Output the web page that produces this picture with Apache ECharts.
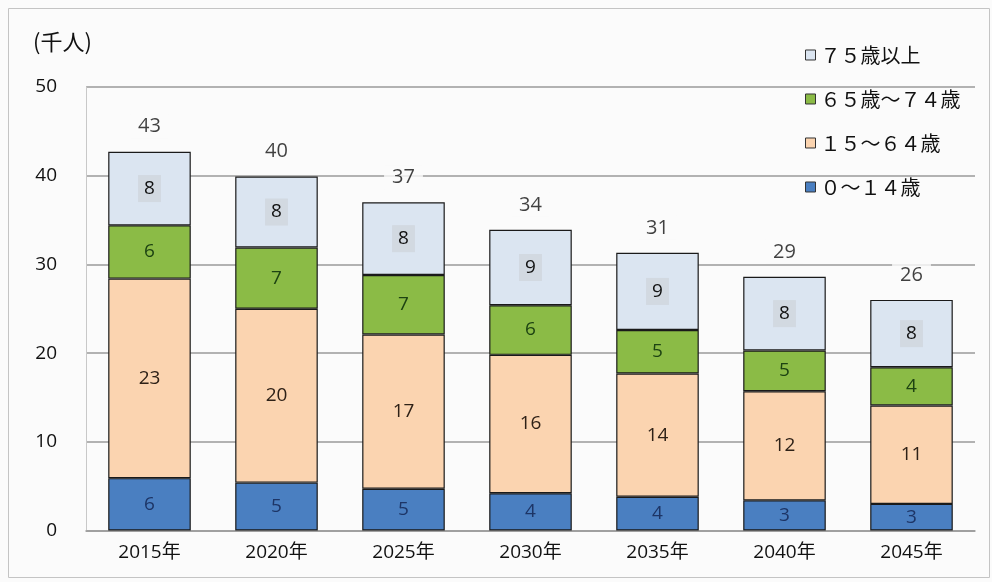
<!DOCTYPE html>
<html>
<head>
<meta charset="utf-8">
<script src="https://cdn.jsdelivr.net/npm/echarts@6/dist/echarts.min.js"></script>
<style>
  html, body { margin: 0; padding: 0; background: #fbfbfb; }
  #chart { width: 992px; height: 582px; }
</style>
</head>
<body>
<div id="chart"></div>
<script>
// Population by age group (thousands of people), projected every five years
const years = ['2015年', '2020年', '2025年', '2030年', '2035年', '2040年', '2045年'];
const age0to14 = [5.9, 5.4, 4.7, 4.2, 3.8, 3.4, 3.0];
const age15to64 = [22.5, 19.6, 17.4, 15.6, 13.9, 12.3, 11.1];
const age65to74 = [6.0, 6.9, 6.7, 5.6, 4.9, 4.6, 4.3];
const age75plus = [8.3, 8.0, 8.2, 8.5, 8.7, 8.3, 7.6];
const yTicks = [0, 10, 20, 30, 40, 50];

const seriesNames = ['０〜１４歳', '１５〜６４歳', '６５歳〜７４歳', '７５歳以上'];
const totals = years.map((_, i) => age0to14[i] + age15to64[i] + age65to74[i] + age75plus[i]);

const cjk = '"Noto Sans CJK JP", sans-serif';
const latin = '"Open Sans", "Noto Sans CJK JP", sans-serif';
const round = p => String(Math.round(p.value));

function segment(name, data, fill, textColor, labelBg) {
  return {
    name: name,
    type: 'bar',
    stack: 'pop',
    data: data,
    barWidth: '65%',
    itemStyle: { color: fill, borderColor: '#1a1a1a', borderWidth: 1.2 },
    label: {
      show: true,
      position: 'inside',
      formatter: round,
      color: textColor,
      fontSize: 19,
      fontFamily: latin,
      backgroundColor: labelBg,
      padding: [4, 6]
    },
    emphasis: { disabled: true }
  };
}

const chart = echarts.init(document.getElementById('chart'), null, { renderer: 'canvas' });
chart.setOption({
  animation: false,
  backgroundColor: '#fbfbfb',
  grid: { left: 86, right: 17, top: 87, bottom: 51.5 },
  graphic: [
    {
      type: 'rect',
      shape: { x: 8.5, y: 8.5, width: 981, height: 569 },
      style: { fill: 'none', stroke: '#c4c4c4', lineWidth: 1 },
      silent: true
    },
    {
      type: 'text',
      left: 33,
      top: 31,
      style: { text: '(千人)', fontSize: 22, fill: '#111', fontFamily: cjk }
    }
  ],
  legend: {
    data: [seriesNames[3], seriesNames[2], seriesNames[1], seriesNames[0]],
    orient: 'vertical',
    left: 800,
    top: 40,
    itemGap: 24,
    itemWidth: 10,
    itemHeight: 10,
    icon: 'rect',
    itemStyle: { borderColor: '#333', borderWidth: 1 },
    textStyle: { fontSize: 20, color: '#111', fontFamily: cjk },
    selectedMode: false
  },
  xAxis: {
    type: 'category',
    data: years,
    axisTick: { show: false },
    axisLine: { lineStyle: { color: '#9a9a9a', width: 1.5 } },
    axisLabel: { fontSize: 19, color: '#111', margin: 13, fontFamily: latin }
  },
  yAxis: {
    type: 'value',
    min: yTicks[0],
    max: yTicks[yTicks.length - 1],
    interval: yTicks[1] - yTicks[0],
    axisLine: { show: true, lineStyle: { color: '#c8c8c8', width: 1 } },
    axisTick: { show: false },
    axisLabel: { fontSize: 19, color: '#111', margin: 29, fontFamily: latin },
    splitLine: { lineStyle: { color: '#9a9a9a', width: 1.5 } }
  },
  series: [
    segment(seriesNames[0], age0to14, '#4a7fc1', '#1d3566', null),
    segment(seriesNames[1], age15to64, '#fbd4b0', '#2e2117', null),
    segment(seriesNames[2], age65to74, '#8bbb46', '#1d4312', null),
    segment(seriesNames[3], age75plus, '#dbe5f1', '#111', 'rgba(190,190,190,0.3)'),
    {
      name: '合計',
      type: 'scatter',
      data: totals,
      symbolSize: 0,
      silent: true,
      label: {
        show: true,
        position: 'top',
        distance: 13,
        formatter: round,
        color: '#111',
        fontSize: 20,
        fontFamily: latin,
        backgroundColor: '#fbfbfb',
        padding: [2, 8]
      }
    }
  ]
});
</script>
</body>
</html>
